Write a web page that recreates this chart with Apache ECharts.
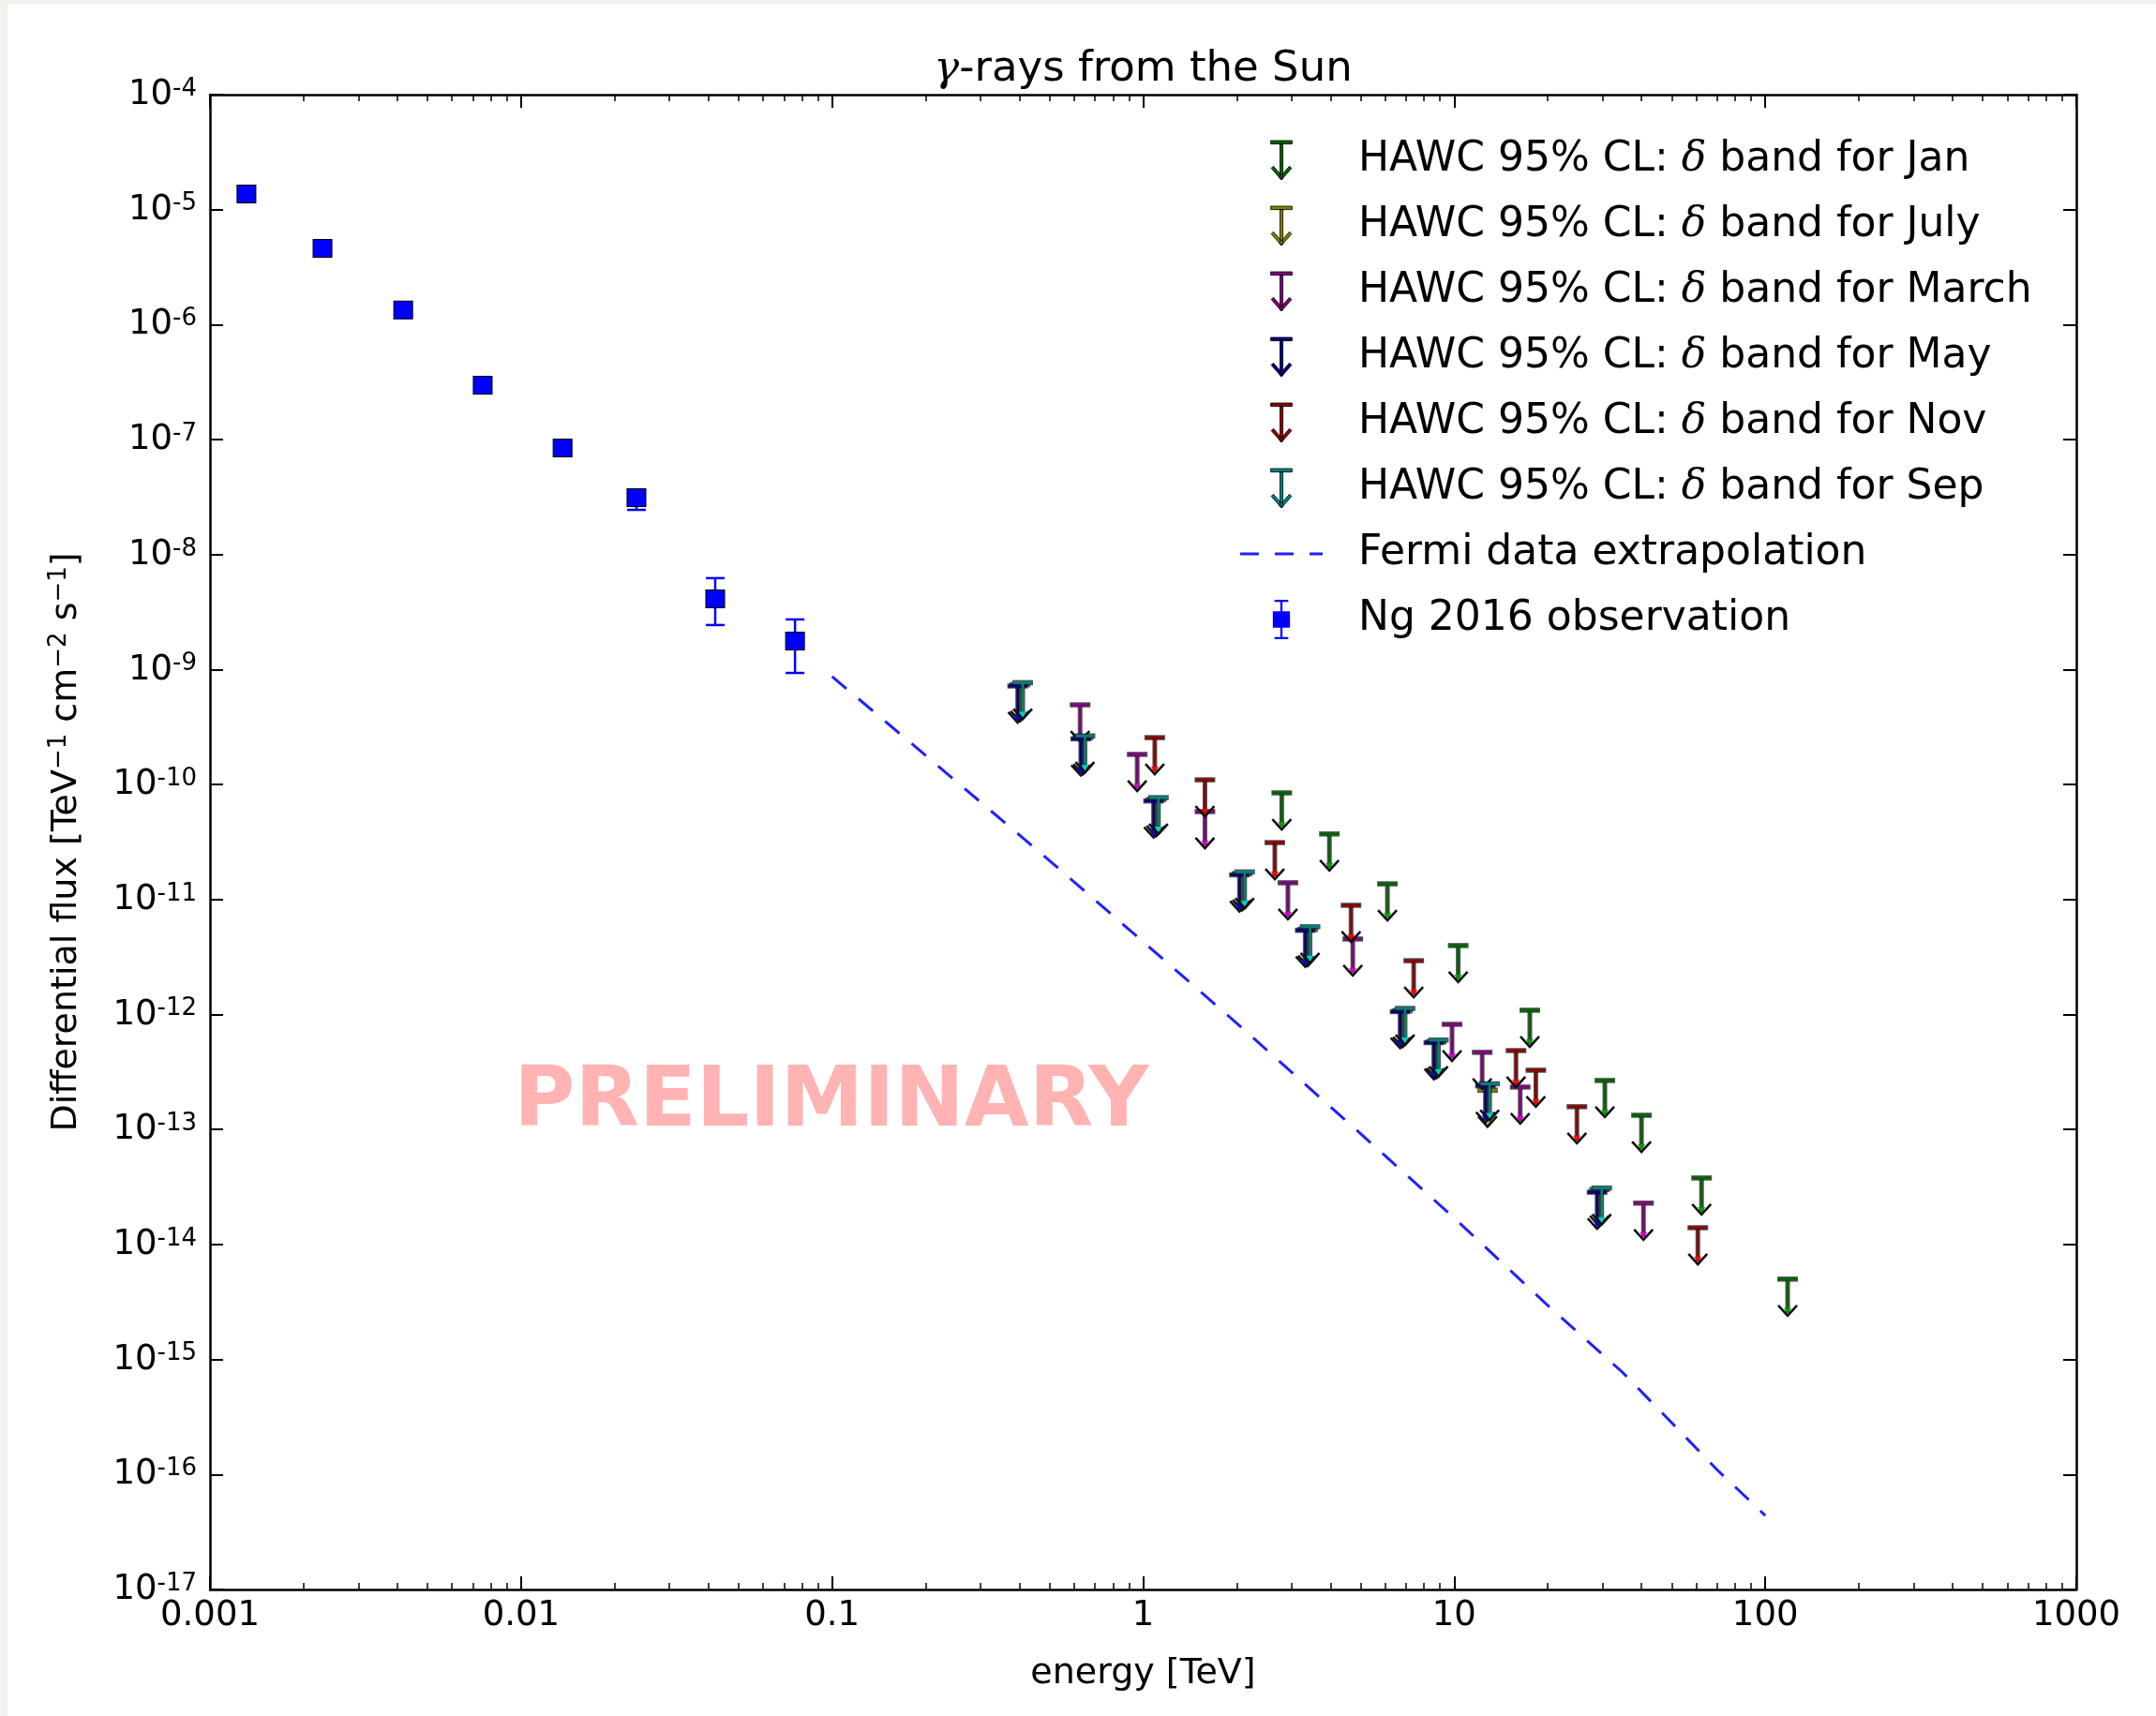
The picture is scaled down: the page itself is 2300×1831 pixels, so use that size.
<!DOCTYPE html>
<html>
<head>
<meta charset="utf-8">
<title>γ-rays from the Sun</title>
<script src="https://cdn.jsdelivr.net/npm/echarts@6/dist/echarts.min.js"></script>
<style>
  html, body { margin: 0; padding: 0; background: #fff; }
  #chart { width: 2300px; height: 1831px; }
</style>
</head>
<body>
<div id="chart"></div>
<script>
// energies in TeV, fluxes in TeV^-1 cm^-2 s^-1
var ngEnergy = [0.00131, 0.0023, 0.00418, 0.00753, 0.0136, 0.0235, 0.0421, 0.076];
var ngFlux   = [1.37e-5, 4.6e-6, 1.34e-6, 2.98e-7, 8.45e-8, 3.13e-8, 4.12e-9, 1.77e-9];
var ngLow    = [1.25e-5, 4.2e-6, 1.22e-6, 2.7e-7, 7.7e-8, 2.45e-8, 2.44e-9, 9.35e-10];
var ngHigh   = [1.5e-5, 5.0e-6, 1.47e-6, 3.3e-7, 9.3e-8, 3.6e-8, 6.24e-9, 2.73e-9];

var fermiEnergy = [0.1, 0.2, 0.5, 1, 2, 5, 10, 20, 35, 50, 70, 100];
var fermiFlux   = [8.7e-10, 1.79e-10, 2.18e-11, 4.3e-12, 8.4e-13, 9.2e-14, 1.7e-14, 2.95e-15, 7.6e-16, 2.82e-16, 1.1e-16, 4.4e-17];

// HAWC 95% CL upper limits, one set per month
var janEnergy   = [2.79, 3.97, 6.10, 10.3, 17.5, 30.5, 40.0, 62.4, 118];
var janUL       = [8.47e-11, 3.72e-11, 1.37e-11, 3.98e-12, 1.09e-12, 2.67e-13, 1.33e-13, 3.79e-14, 5.0e-15];
var julyEnergy  = [0.402, 0.64, 1.10, 2.08, 3.38, 6.82, 8.75, 12.8, 29.3];
var julyUL      = [7.4e-10, 2.55e-10, 7.4e-11, 1.68e-11, 5.5e-12, 1.08e-12, 5.8e-13, 2.2e-13, 3.0e-14];
var marchEnergy = [0.627, 0.957, 1.58, 2.92, 4.72, 9.84, 12.3, 16.3, 40.6];
var marchUL     = [4.94e-10, 1.83e-10, 5.82e-11, 1.40e-11, 4.54e-12, 8.22e-13, 4.69e-13, 2.34e-13, 2.29e-14];
var mayEnergy   = [0.395, 0.63, 1.08, 2.04, 3.32, 6.7, 8.6, 12.6, 28.8];
var mayUL       = [7.2e-10, 2.5e-10, 7.2e-11, 1.64e-11, 5.4e-12, 1.06e-12, 5.7e-13, 2.4e-13, 2.85e-14];
var novEnergy   = [1.09, 1.58, 2.65, 4.66, 7.41, 15.8, 18.3, 24.8, 60.7];
var novUL       = [2.56e-10, 1.10e-10, 3.13e-11, 8.91e-12, 2.94e-12, 4.86e-13, 3.28e-13, 1.58e-13, 1.40e-14];
var sepEnergy   = [0.41, 0.65, 1.12, 2.12, 3.44, 6.95, 8.9, 13.0, 29.8];
var sepUL       = [7.7e-10, 2.65e-10, 7.7e-11, 1.74e-11, 5.8e-12, 1.13e-12, 6.0e-13, 2.5e-13, 3.1e-14];

// axis ticks
var xTickValues = [0.001, 0.01, 0.1, 1, 10, 100, 1000];
var xTickLabels = ['0.001', '0.01', '0.1', '1', '10', '100', '1000'];
var yTickExponents = [-17, -16, -15, -14, -13, -12, -11, -10, -9, -8, -7, -6, -5, -4];

var yTickValues = yTickExponents.map(function (e) { return Math.pow(10, e); });
var xMinorValues = [];
for (var d = -3; d <= 2; d++) {
  for (var k = 2; k <= 9; k++) xMinorValues.push(k * Math.pow(10, d));
}

var FONT = 'DejaVu Sans';

var months = [
  { name: 'HAWC 95% CL: δ band for Jan',   e: janEnergy,   ul: janUL,   stem: '#006400', tip: '#00a000' },
  { name: 'HAWC 95% CL: δ band for July',  e: julyEnergy,  ul: julyUL,  stem: '#808000', tip: '#d0d000' },
  { name: 'HAWC 95% CL: δ band for March', e: marchEnergy, ul: marchUL, stem: '#800080', tip: '#d000d0' },
  { name: 'HAWC 95% CL: δ band for May',   e: mayEnergy,   ul: mayUL,   stem: '#000080', tip: '#0000ff' },
  { name: 'HAWC 95% CL: δ band for Nov',   e: novEnergy,   ul: novUL,   stem: '#8b0000', tip: '#ff0000' },
  { name: 'HAWC 95% CL: δ band for Sep',   e: sepEnergy,   ul: sepUL,   stem: '#008080', tip: '#00d0d0' }
];

var arrowIcon = 'path://M0,0h22v3.5h-22z M9.5,3.5h3v36h-3z M0.5,28.5l2.2,-2.2l8.3,9.3l8.3,-9.3l2.2,2.2l-10.5,12z';
var fermiIcon = 'path://M0,0h20v3h-20z M37,0h20v3h-20z M74,0h14v3h-14z';
var ngIcon = 'path://M2,0h16v2.5h-16z M8.75,0h2.5v46h-2.5z M2,43.5h16v2.5h-16z M0,13.5h20v19h-20z';

// upper limit glyph: cap at the value, stem and arrow head below
function ulRender(stem, tip) {
  return function (params, api) {
    var p = api.coord([api.value(0), api.value(1)]);
    var x = p[0], y = p[1], L = 39;
    var edge = { stroke: '#1a1a1a', lineWidth: 5, opacity: 0.75 };
    return {
      type: 'group',
      children: [
        { type: 'line', shape: { x1: x, y1: y, x2: x, y2: y + L - 3 }, style: edge },
        { type: 'line', shape: { x1: x - 11, y1: y, x2: x + 11, y2: y }, style: { stroke: '#1a1a1a', lineWidth: 5.5, opacity: 0.75 } },
        { type: 'line', shape: { x1: x - 10, y1: y, x2: x + 10, y2: y }, style: { stroke: stem, lineWidth: 3 } },
        { type: 'line', shape: { x1: x, y1: y, x2: x, y2: y + L - 3 }, style: { stroke: stem, lineWidth: 2.5 } },
        { type: 'polyline', shape: { points: [[x - 10, y + L - 11], [x, y + L], [x + 10, y + L - 11]] },
          style: { stroke: '#111', lineWidth: 2.6, fill: null } },
        { type: 'polygon', shape: { points: [[x - 4, y + L - 8], [x + 4, y + L - 8], [x, y + L - 2]] },
          style: { fill: tip } }
      ]
    };
  };
}

function errRender(params, api) {
  var x = api.value(0);
  var lo = api.coord([x, api.value(1)]);
  var hi = api.coord([x, api.value(2)]);
  function s() { return { stroke: '#0000ff', lineWidth: 2.5 }; }
  return {
    type: 'group',
    children: [
      { type: 'line', shape: { x1: lo[0], y1: lo[1], x2: hi[0], y2: hi[1] }, style: s() },
      { type: 'line', shape: { x1: lo[0] - 10, y1: lo[1], x2: lo[0] + 10, y2: lo[1] }, style: s() },
      { type: 'line', shape: { x1: hi[0] - 10, y1: hi[1], x2: hi[0] + 10, y2: hi[1] }, style: s() }
    ]
  };
}

var series = months.map(function (m) {
  return {
    type: 'custom',
    name: m.name,
    renderItem: ulRender(m.stem, m.tip),
    itemStyle: { color: m.stem },
    encode: { x: 0, y: 1 },
    data: m.e.map(function (e, i) { return [e, m.ul[i]]; }),
    z: 3
  };
});

series.push({
  type: 'line',
  name: 'Fermi data extrapolation',
  data: fermiEnergy.map(function (e, i) { return [e, fermiFlux[i]]; }),
  symbol: 'none',
  smooth: false,
  itemStyle: { color: '#0000ff' },
  lineStyle: { color: '#2020ff', width: 3, type: [20, 17] },
  z: 2
});

series.push({
  type: 'custom',
  name: 'Ng 2016 observation',
  renderItem: errRender,
  itemStyle: { color: '#0000ff' },
  encode: { x: 0, y: [1, 2] },
  data: ngEnergy.map(function (e, i) { return [e, ngLow[i], ngHigh[i]]; }),
  z: 3
});

series.push({
  type: 'scatter',
  name: 'Ng 2016 observation',
  symbol: 'rect',
  symbolSize: [20, 19],
  itemStyle: { color: '#0000ff', borderColor: '#000', borderWidth: 1, opacity: 1 },
  data: ngEnergy.map(function (e, i) { return [e, ngFlux[i]]; }),
  z: 4
});

var legendData = months.map(function (m) {
  return { name: m.name, icon: arrowIcon, itemStyle: { color: m.stem, borderColor: '#000', borderWidth: 0.8 } };
});
legendData.push({ name: 'Fermi data extrapolation', icon: fermiIcon, itemStyle: { color: '#2020ff', borderWidth: 0 } });
legendData.push({ name: 'Ng 2016 observation', icon: ngIcon, itemStyle: { color: '#0000ff', borderWidth: 0 } });

function xLabel(v) {
  for (var i = 0; i < xTickValues.length; i++) {
    if (Math.abs(Math.log10(v) - Math.log10(xTickValues[i])) < 1e-6) return xTickLabels[i];
  }
  return '';
}

var axisLineStyle = { show: true, lineStyle: { color: '#000', width: 2.5 } };

function xAxisDef(pos, minor) {
  return {
    type: 'log', gridIndex: 0, position: pos, min: 0.001, max: 1000,
    axisLine: minor ? { show: false } : axisLineStyle,
    splitLine: { show: false },
    axisTick: {
      show: true, inside: true, length: minor ? 7 : 14,
      lineStyle: { color: '#000', width: minor ? 1.5 : 2 },
      customValues: minor ? xMinorValues : xTickValues
    },
    axisLabel: (pos === 'bottom' && !minor) ? {
      show: true, customValues: xTickValues, formatter: xLabel, margin: 10,
      fontFamily: FONT, fontSize: 37, color: '#000'
    } : { show: false },
    name: (pos === 'bottom' && !minor) ? 'energy [TeV]' : '',
    nameLocation: 'middle', nameGap: 71,
    nameTextStyle: { fontFamily: FONT, fontSize: 38, color: '#000' }
  };
}

function yAxisDef(pos) {
  var main = pos === 'left';
  return {
    type: 'log', gridIndex: 0, position: pos, min: 1e-17, max: 1e-4,
    axisLine: axisLineStyle,
    splitLine: { show: false },
    axisTick: { show: true, inside: true, length: 14, lineStyle: { color: '#000', width: 2 }, customValues: yTickValues },
    axisLabel: main ? {
      show: true, customValues: yTickValues, margin: 14,
      formatter: function (v) { return '{b|10}{s|' + Math.round(Math.log10(v)) + '}'; },
      rich: {
        b: { fontFamily: FONT, fontSize: 37, color: '#000', verticalAlign: 'bottom', lineHeight: 38 },
        s: { fontFamily: FONT, fontSize: 26, color: '#000', verticalAlign: 'top' }
      }
    } : { show: false },
    name: main ? '{n|Differential flux [TeV}{s|−1}{n| cm}{s|−2}{n| s}{s|−1}{n|]}' : '',
    nameLocation: 'middle', nameGap: 134,
    nameTextStyle: {
      fontFamily: FONT, fontSize: 38, color: '#000',
      rich: {
        n: { fontFamily: FONT, fontSize: 38, color: '#000', verticalAlign: 'bottom', lineHeight: 40 },
        s: { fontFamily: FONT, fontSize: 26, color: '#000', verticalAlign: 'top' }
      }
    }
  };
}

var chart = echarts.init(document.getElementById('chart'), null, { renderer: 'canvas' });
chart.setOption({
  animation: false,
  backgroundColor: '#ffffff',
  textStyle: { fontFamily: FONT },
  title: {
    text: '{g|γ}-rays from the Sun',
    left: 1219.5, top: 52, textAlign: 'center', padding: 0,
    textStyle: {
      fontFamily: FONT, fontSize: 45, fontWeight: 'normal', color: '#000',
      rich: { g: { fontFamily: 'DejaVu Serif', fontStyle: 'italic', fontSize: 45, color: '#000' } }
    }
  },
  legend: {
    orient: 'vertical', left: 1323, top: 149, padding: 0,
    itemWidth: 88, itemHeight: 42, itemGap: 26,
    selectedMode: false,
    data: legendData,
    formatter: function (name) { return name.replace('δ', '{d|δ}'); },
    textStyle: {
      fontFamily: FONT, fontSize: 44, color: '#000', lineHeight: 44, padding: [0, 0, 0, 33],
      rich: { d: { fontFamily: 'DejaVu Serif', fontStyle: 'italic', fontSize: 44, lineHeight: 44, color: '#000' } }
    }
  },
  grid: { left: 224, right: 85, top: 101, bottom: 135 },
  xAxis: [xAxisDef('bottom', false), xAxisDef('bottom', true), xAxisDef('top', false), xAxisDef('top', true)],
  yAxis: [yAxisDef('left'), yAxisDef('right')],
  graphic: [
    { type: 'rect', shape: { x: 0, y: 0, width: 8, height: 1831 }, style: { fill: '#f3f1eb' }, silent: true },
    { type: 'rect', shape: { x: 0, y: 0, width: 2300, height: 4 }, style: { fill: '#f3f1eb' }, silent: true },
    {
      type: 'text', x: 887, y: 1178, z: 1, silent: true,
      style: { text: 'PRELIMINARY', fill: '#ffb3b3', font: 'bold 89px "DejaVu Sans"', align: 'center', verticalAlign: 'middle' }
    }
  ],
  series: series
});
</script>
</body>
</html>
